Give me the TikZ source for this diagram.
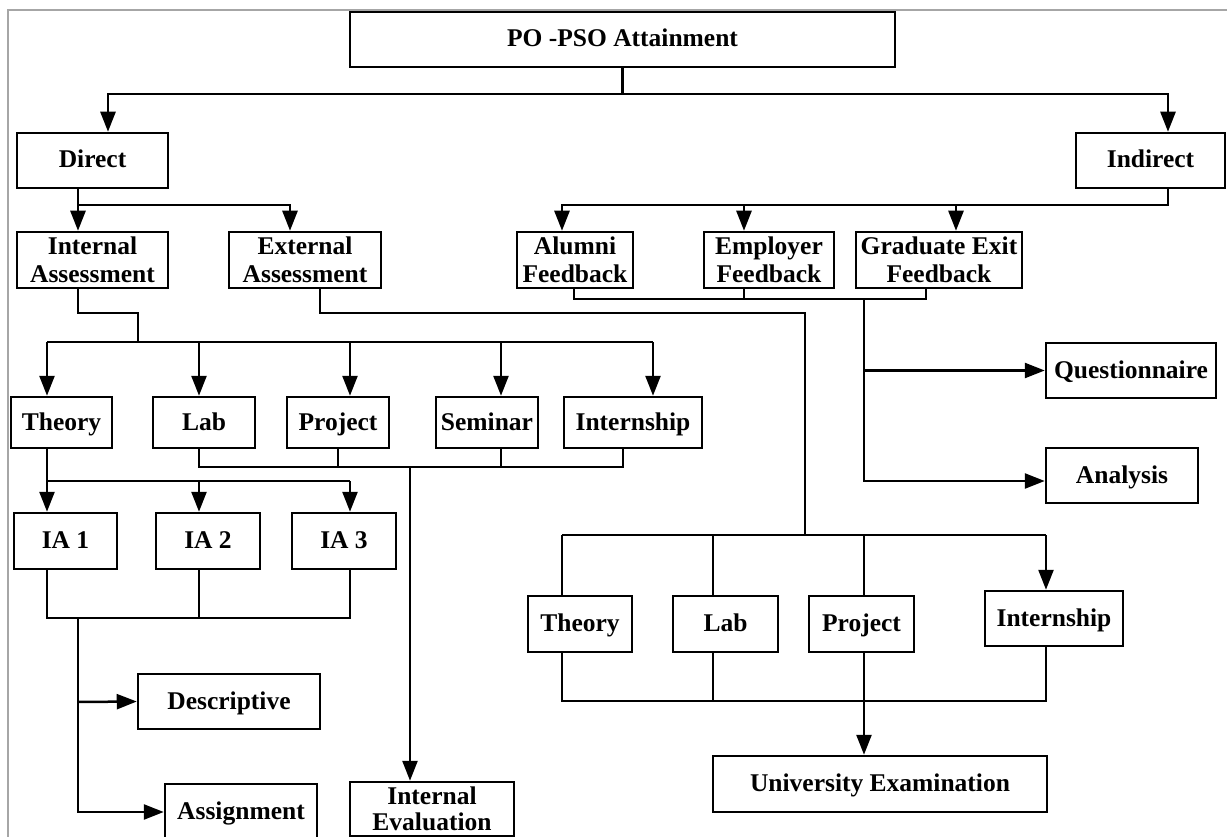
\documentclass[tikz,border=0pt]{standalone}
\usepackage{fontspec}
\setmainfont{Liberation Serif}
\usetikzlibrary{arrows.meta}
\begin{document}
\begin{tikzpicture}[x=1pt,y=-1pt,
  box/.style={draw, line width=2.5pt, inner sep=0pt, align=center,
    font=\fontsize{25.5}{28}\selectfont\bfseries},
  one/.style={text height=19pt, text depth=4pt},
  ln/.style={line width=2.5pt},
  arr/.style={line width=2.5pt, -{Triangle[length=20pt,width=15pt]}}]
\useasboundingbox (0,0) rectangle (1227,837);
\draw[gray!70, line width=1.3pt] (8,900) -- (8,10) -- (1300,10);
% nodes
\node[box, one, minimum width=545pt, minimum height=55pt] (top) at (622.5,39.5) {PO -PSO Attainment};
\node[box, one, minimum width=151pt, minimum height=55pt] (direct) at (92.5,160.5) {Direct};
\node[box, one, minimum width=149pt, minimum height=55pt] (indirect) at (1150.5,160.5) {Indirect};
\node[box, minimum width=151pt, minimum height=56pt] (intA) at (92.5,260) {Internal\\Assessment};
\node[box, minimum width=152pt, minimum height=56pt] (extA) at (305,260) {External\\Assessment};
\node[box, minimum width=116pt, minimum height=56pt] (alumni) at (575,260) {Alumni\\Feedback};
\node[box, minimum width=130pt, minimum height=56pt] (employer) at (769,260) {Employer\\Feedback};
\node[box, minimum width=166pt, minimum height=56pt] (grad) at (939,260) {Graduate Exit\\Feedback};
\node[box, one, minimum width=170pt, minimum height=55pt] (quest) at (1131,370.5) {Questionnaire};
\node[box, one, minimum width=152pt, minimum height=55pt] (analysis) at (1122,475.5) {Analysis};
\node[box, one, minimum width=101pt, minimum height=51pt] (theoryA) at (61.5,422.5) {Theory};
\node[box, one, minimum width=102pt, minimum height=51pt] (labA) at (204,422.5) {Lab};
\node[box, one, minimum width=102pt, minimum height=51pt] (projA) at (338,422.5) {Project};
\node[box, one, minimum width=102pt, minimum height=51pt] (sem) at (487,422.5) {Seminar};
\node[box, one, minimum width=138pt, minimum height=51pt] (internA) at (633,422.5) {Internship};
\node[box, one, minimum width=103pt, minimum height=56pt] (iaa) at (65.5,541) {IA 1};
\node[box, one, minimum width=104pt, minimum height=56pt] (iab) at (208,541) {IA 2};
\node[box, one, minimum width=104pt, minimum height=56pt] (iac) at (344,541) {IA 3};
\node[box, one, minimum width=182pt, minimum height=55pt] (desc) at (229,701.5) {Descriptive};
\node[box, one, minimum width=152pt, minimum height=56pt] (assign) at (241,812) {Assignment};
\node[box, minimum width=164pt, minimum height=54pt, font=\fontsize{25.5}{26}\selectfont\bfseries] (ieval) at (432,809) {Internal\\Evaluation};
\node[box, one, minimum width=104pt, minimum height=56pt] (theoryB) at (580,624) {Theory};
\node[box, one, minimum width=105pt, minimum height=56pt] (labB) at (725.5,624) {Lab};
\node[box, one, minimum width=105pt, minimum height=56pt] (projB) at (861.5,624) {Project};
\node[box, one, minimum width=138pt, minimum height=55pt] (internB) at (1054,618.5) {Internship};
\node[box, one, minimum width=334pt, minimum height=56pt] (univ) at (880,784) {University Examination};
% top level
\coordinate (j0) at (top.south |- 0,94);
\draw[ln] (top.south) -- (j0);
\draw[arr] (j0) -| (direct.north -| 108,0);
\draw[arr] (j0) -| (indirect.north -| 1168,0);
% direct
\draw[arr] (direct.south -| 78,0) -- (intA.north -| 78,0);
\draw[arr] (78,205) -| (extA.north -| 290,0);
% indirect
\draw[arr] (indirect.south -| 1168,0) |- (562,205) -- (alumni.north -| 562,0);
\draw[arr] (744,205) -- (employer.north -| 744,0);
\draw[arr] (956,205) -- (grad.north -| 956,0);
% feedback merge
\draw[ln] (alumni.south -| 574,0) |- (926,299) -- (grad.south -| 926,0);
\draw[ln] (employer.south -| 744,0) -- (744,299);
\draw[arr] (864,299) |- (quest.west);
\draw[arr] (864,370) |- (analysis.west |- 0,481);
% internal assessment
\draw[ln] (intA.south -| 78,0) |- (138,313) -- (138,342);
\draw[ln] (47,342) -- (653,342);
\draw[arr] (47,342) -- (theoryA.north -| 47,0);
\draw[arr] (199,342) -- (labA.north -| 199,0);
\draw[arr] (350,342) -- (projA.north -| 350,0);
\draw[arr] (501,342) -- (sem.north -| 501,0);
\draw[arr] (653,342) -- (internA.north -| 653,0);
% external assessment
\draw[ln] (extA.south -| 320,0) |- (805,313) -- (805,535);
\draw[ln] (562,535) -- (1046,535);
\draw[ln] (562,535) -- (theoryB.north -| 562,0);
\draw[ln] (713,535) -- (labB.north -| 713,0);
\draw[ln] (864,535) -- (projB.north -| 864,0);
\draw[arr] (1046,535) -- (internB.north -| 1046,0);
% lower merge
\draw[ln] (theoryB.south -| 562,0) |- (1046,701) -- (internB.south -| 1046,0);
\draw[ln] (labB.south -| 713,0) -- (713,701);
\draw[arr] (projB.south -| 864,0) -- (univ.north -| 864,0);
% upper row merge
\draw[ln] (labA.south -| 199,0) |- (623,467) -- (internA.south -| 623,0);
\draw[ln] (projA.south -| 338,0) -- (338,467);
\draw[ln] (sem.south -| 501,0) -- (501,467);
\draw[arr] (410,467) -- (ieval.north -| 410,0);
% theory -> IA
\draw[ln] (theoryA.south -| 47,0) |- (350,481);
\draw[arr] (47,481) -- (iaa.north -| 47,0);
\draw[arr] (199,481) -- (iab.north -| 199,0);
\draw[arr] (350,481) -- (iac.north -| 350,0);
% IA merge
\draw[ln] (iaa.south -| 47,0) |- (350,618) -- (iac.south -| 350,0);
\draw[ln] (iab.south -| 199,0) -- (199,618);
\draw[arr] (78,618) |- (assign.west);
\draw[arr] (78,702) -- (desc.west);
\end{tikzpicture}
\end{document}
